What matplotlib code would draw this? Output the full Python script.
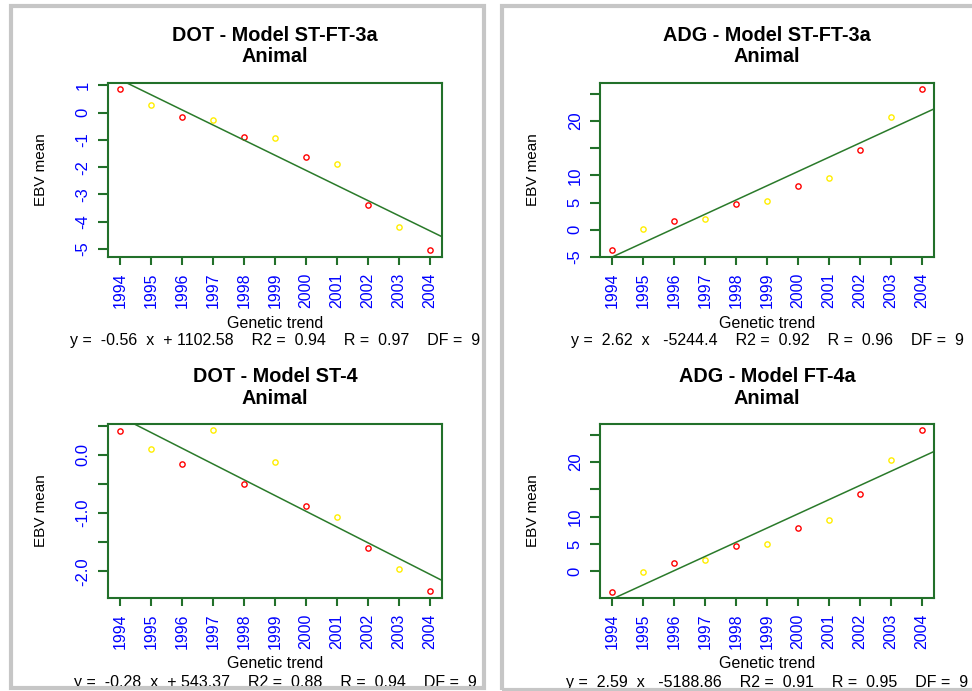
import matplotlib.pyplot as plt
import numpy as np
from matplotlib.patches import Rectangle
from matplotlib.transforms import offset_copy

plt.rcParams['font.family'] = ['Liberation Sans', 'DejaVu Sans']

years = list(range(1994, 2005))

# EBV mean per year
dot_st_ft_3a = [0.87, 0.27, -0.18, -0.28, -0.88, -0.93, -1.63, -1.88, -3.37, -4.18, -5.02]
adg_st_ft_3a = [-3.66, 0.06, 1.59, 2.01, 4.82, 5.30, 8.05, 9.57, 14.57, 20.79, 25.79]
dot_st_4 = [0.41, 0.10, -0.15, 0.43, -0.50, -0.13, -0.88, -1.07, -1.60, -1.96, -2.34]
adg_ft_4a = [-3.67, -0.12, 1.59, 2.08, 4.65, 5.08, 7.89, 9.36, 14.13, 20.37, 25.87]

titles = ['DOT - Model ST-FT-3a', 'ADG - Model ST-FT-3a', 'DOT - Model ST-4', 'ADG - Model FT-4a']
stats = [
    'y =  -0.56  x  + 1102.58    R2 =  0.94    R =  0.97    DF =  9',
    'y =  2.62  x   -5244.4    R2 =  0.92    R =  0.96    DF =  9',
    'y =  -0.28  x  + 543.37    R2 =  0.88    R =  0.94    DF =  9',
    'y =  2.59  x   -5188.86    R2 =  0.91    R =  0.95    DF =  9',
]
yticks = [
    [1, 0, -1, -2, -3, -4, -5],
    [-5, 0, 5, 10, 15, 20, 25],
    [-2.0, -1.5, -1.0, -0.5, 0.0, 0.5],
    [0, 5, 10, 15, 20, 25],
]
yticklabels = [
    ['1', '0', '-1', '-2', '-3', '-4', '-5'],
    ['-5', '0', '5', '10', '', '20', ''],
    ['-2.0', '', '-1.0', '', '0.0', ''],
    ['0', '5', '10', '', '20', ''],
]
ylims = [(-5.29, 1.08), (-5.0, 26.95), (-2.46, 0.53), (-4.85, 26.95)]
series = [dot_st_ft_3a, adg_st_ft_3a, dot_st_4, adg_ft_4a]

point_colors = ['#ff0000', '#ffee00'] * 6

green = '#22702a'
line_green = '#2a7a2a'

W, H = 972, 691
fig = plt.figure(figsize=(W / 100, H / 100), dpi=100)
fig.patch.set_facecolor('white')

# axes boxes in pixels: left, top, right, bottom
boxes = [(108, 83, 442, 257), (600, 83, 934, 257), (108, 424, 442, 598), (600, 424, 934, 598)]

for k, (l, t, r, b) in enumerate(boxes):
    ax = fig.add_axes([l / W, (H - b) / H, (r - l) / W, (b - t) / H])
    y = series[k]
    for i in range(len(years)):
        ax.plot(years[i], y[i], 'o', ms=3.8, mfc='none', mec=point_colors[i], mew=1.0)
    slope, icpt = np.polyfit(years, y, 1)
    ax.axline((years[0], icpt + slope * years[0]), slope=slope, color=line_green, lw=1.1)

    ax.set_xlim(1993.6, 2004.4)
    ax.set_ylim(*ylims[k])
    ax.set_xticks(years)
    ax.set_xticklabels([str(v) for v in years], rotation=90)
    ax.set_yticks(yticks[k])
    ax.set_yticklabels(yticklabels[k], rotation=90, va='center')
    for s in ax.spines.values():
        s.set_color(green)
        s.set_linewidth(1.5)
    ax.tick_params(axis='x', direction='out', length=6, width=1.5, color=green,
                   labelcolor='#0000ff', labelsize=11.4, pad=5.5)
    ax.tick_params(axis='y', direction='out', length=7.5, width=1.5, color=green,
                   labelcolor='#0000ff', labelsize=12, pad=5)

    tr_top = ax.transAxes
    ax.text(0.5, 1, titles[k], transform=offset_copy(tr_top, fig=fig, y=47, units='dots'),
            ha='center', va='center', fontsize=14.3, fontweight='bold')
    ax.text(0.5, 1, 'Animal', transform=offset_copy(tr_top, fig=fig, y=26, units='dots'),
            ha='center', va='center', fontsize=14.3, fontweight='bold')
    ax.text(0.5, 0, 'Genetic trend', transform=offset_copy(tr_top, fig=fig, y=-66, units='dots'),
            ha='center', va='center', fontsize=11.5)
    ax.text(0.5, 0, stats[k], transform=offset_copy(tr_top, fig=fig, y=-84, units='dots'),
            ha='center', va='center', fontsize=11.5)
    ax.text(0, 0.5, 'EBV mean', transform=offset_copy(tr_top, fig=fig, x=-67, units='dots'),
            ha='center', va='center', rotation=90, fontsize=11)

# gray panel frames
frame = '#c6c6c6'
fig.add_artist(Rectangle((11 / W, (H - 688) / H), (483.7 - 11) / W, (688 - 5.5) / H,
                         transform=fig.transFigure, fill=False, ec=frame, lw=3, zorder=10))
fig.add_artist(Rectangle((502.3 / W, (H - 690) / H), (990 - 502.3) / W, (690 - 5.5) / H,
                         transform=fig.transFigure, fill=False, ec=frame, lw=3, zorder=10,
                         clip_on=False))

fig.savefig('out.png', dpi=100)
